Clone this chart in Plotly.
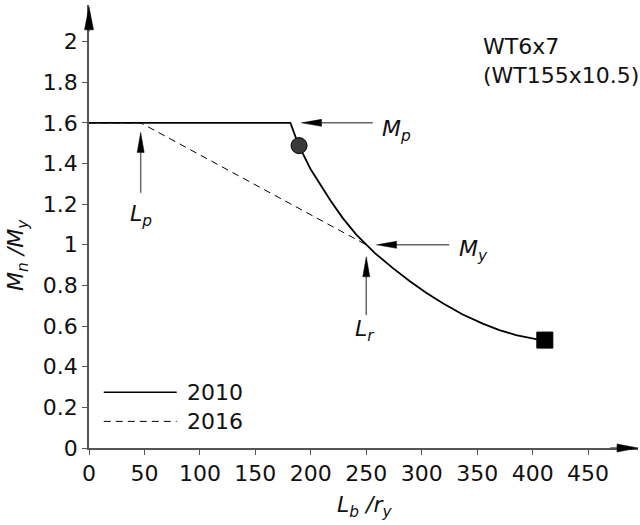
import plotly.graph_objects as go

# ---- data ----
lb_2010 = [0, 181.6, 189, 200, 218, 229, 241, 250, 258, 274, 289, 304, 319, 337, 355, 370, 385, 403, 410]
mn_2010 = [1.6, 1.6, 1.49, 1.37, 1.215, 1.13, 1.05, 1.0, 0.958, 0.885, 0.822, 0.764, 0.712, 0.657, 0.612, 0.58, 0.556, 0.536, 0.531]
lb_2016 = [0, 46.6, 250]
mn_2016 = [1.6, 1.6, 1.0]
circle_pt = (189.4, 1.488)
square_pt = (411, 0.531)
x_ticks = [0, 50, 100, 150, 200, 250, 300, 350, 400, 450]
y_ticks = [0, 0.2, 0.4, 0.6, 0.8, 1, 1.2, 1.4, 1.6, 1.8, 2]

# ---- layout constants ----
W, H = 640, 525
ML, MR, MT, MB = 89, 2, 5, 77
XR = [0, 495]
YR = [0, 2.18]
px_x = (W - ML - MR) / (XR[1] - XR[0])
px_y = (H - MT - MB) / (YR[1] - YR[0])
FONT = "DejaVu Sans, Arial, sans-serif"
AX = "#555555"

fig = go.Figure()
fig.add_trace(go.Scatter(x=lb_2016, y=mn_2016, mode="lines", name="2016",
                         line=dict(color="black", width=1, dash="7px,5px"), showlegend=False))
fig.add_trace(go.Scatter(x=lb_2010, y=mn_2010, mode="lines", name="2010",
                         line=dict(color="black", width=1.8), showlegend=False))
fig.add_trace(go.Scatter(x=[circle_pt[0]], y=[circle_pt[1]], mode="markers", showlegend=False,
                         marker=dict(symbol="circle", size=16, color="#3a3a3a",
                                     line=dict(color="black", width=1))))
fig.add_trace(go.Scatter(x=[square_pt[0]], y=[square_pt[1]], mode="markers", showlegend=False,
                         marker=dict(symbol="square", size=16, color="black",
                                     line=dict(color="black", width=1))))

shapes = []


def to_paper(x, y):
    return (x - XR[0]) / (XR[1] - XR[0]), (y - YR[0]) / (YR[1] - YR[0])


def arrow(tip, tail, head_len=20, head_w=7, color="#666666"):
    tx, ty = tip
    sx, sy = tail
    dxp = (tx - sx) * px_x
    dyp = (ty - sy) * px_y
    n = (dxp ** 2 + dyp ** 2) ** 0.5
    ux, uy = dxp / n, dyp / n
    bx = tx - ux * head_len / px_x
    by = ty - uy * head_len / px_y
    pxv, pyv = -uy, ux
    l1 = (bx + pxv * head_w / 2 / px_x, by + pyv * head_w / 2 / px_y)
    l2 = (bx - pxv * head_w / 2 / px_x, by - pyv * head_w / 2 / px_y)
    a0, b0 = to_paper(sx, sy)
    a1, b1 = to_paper(bx, by)
    shapes.append(dict(type="line", x0=a0, y0=b0, x1=a1, y1=b1, xref="paper", yref="paper",
                       line=dict(color=color, width=1.5), layer="above"))
    p0 = to_paper(tx, ty)
    p1 = to_paper(*l1)
    p2 = to_paper(*l2)
    shapes.append(dict(type="path", xref="paper", yref="paper",
                       path=f"M{p0[0]},{p0[1]} L{p1[0]},{p1[1]} L{p2[0]},{p2[1]} Z",
                       fillcolor="black", line=dict(color="black", width=0.5), layer="above"))


# axis arrowheads
arrow((495, 0), (470, 0), head_len=21, head_w=8, color=AX)
arrow((0, 2.171), (0, 2.05), head_len=23, head_w=9, color=AX)
# annotation arrows
arrow((46.6, 1.553), (46.6, 1.256))
arrow((191.6, 1.6), (255.9, 1.6))
arrow((259.3, 1.0), (324.8, 1.0))
arrow((250, 0.941), (250, 0.654))

# manual legend
shapes.append(dict(type="line", x0=13.3, x1=79.1, y0=0.274, y1=0.274, xref="x", yref="y",
                   line=dict(color="black", width=1.5)))
shapes.append(dict(type="line", x0=13.3, x1=79.1, y0=0.131, y1=0.131, xref="x", yref="y",
                   line=dict(color="black", width=1, dash="7px,5px")))

ann = []
tf = dict(family=FONT, size=22, color="#111111")
ann.append(dict(x=87, y=0.274, xref="x", yref="y", text="2010", showarrow=False,
                xanchor="left", yanchor="middle", font=tf))
ann.append(dict(x=87, y=0.131, xref="x", yref="y", text="2016", showarrow=False,
                xanchor="left", yanchor="middle", font=tf))
ann.append(dict(x=353.4, y=1.905, xref="x", yref="y", text="WT6x7<br>(WT155x10.5)",
                showarrow=False, xanchor="left", yanchor="middle", align="left", font=tf))
ann.append(dict(x=46.6, y=1.146, xref="x", yref="y", text="<i>L<sub>p</sub></i>",
                showarrow=False, xanchor="center", yanchor="middle", font=tf))
ann.append(dict(x=248.7, y=0.58, xref="x", yref="y", text="<i>L<sub>r</sub></i>",
                showarrow=False, xanchor="center", yanchor="middle", font=tf))
ann.append(dict(x=262.2, y=1.564, xref="x", yref="y", text="<i>M<sub>p</sub></i>",
                showarrow=False, xanchor="left", yanchor="middle", font=tf))
ann.append(dict(x=331.4, y=0.973, xref="x", yref="y", text="<i>M<sub>y</sub></i>",
                showarrow=False, xanchor="left", yanchor="middle", font=tf))
# axis titles
ann.append(dict(x=(17 - ML) / (W - ML - MR), y=(H - MB - 255) / (H - MT - MB), xref="paper", yref="paper",
                text="<i>M<sub>n</sub> /M<sub>y</sub></i>", textangle=-90, showarrow=False,
                xanchor="center", yanchor="middle", font=tf))
ann.append(dict(x=(365 - ML) / (W - ML - MR), y=-(506 - (H - MB)) / (H - MT - MB), xref="paper", yref="paper",
                text="<i>L<sub>b</sub> /r<sub>y</sub></i>", showarrow=False,
                xanchor="center", yanchor="middle", font=tf))

fig.update_layout(
    template="none",
    width=W, height=H,
    margin=dict(l=ML, r=MR, t=MT, b=MB, pad=0),
    paper_bgcolor="white", plot_bgcolor="white",
    font=dict(family=FONT, size=22, color="#111111"),
    showlegend=False,
    shapes=shapes, annotations=ann,
    xaxis=dict(range=XR, tickvals=x_ticks, ticktext=[str(v) for v in x_ticks],
               showgrid=False, zeroline=False, showline=True, linecolor=AX, linewidth=1.5,
               ticks="outside", ticklen=5, tickcolor=AX, tickwidth=1.2, automargin=False,
               tickfont=tf),
    yaxis=dict(range=YR, tickvals=y_ticks, ticktext=[f"{v:g}" for v in y_ticks],
               showgrid=False, zeroline=False, showline=True, linecolor=AX, linewidth=1.5,
               ticks="outside", ticklen=5, tickcolor=AX, tickwidth=1.2, automargin=False,
               tickfont=tf),
)

fig.write_html("out.html", config={"displayModeBar": False},
               post_script="document.body.style.margin='0';document.body.style.overflow='hidden';")
